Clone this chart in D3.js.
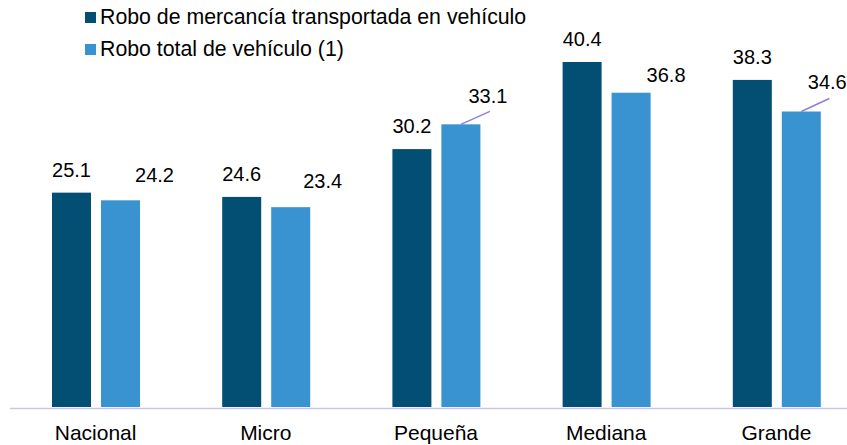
<!DOCTYPE html>
<html>
<head>
<meta charset="utf-8">
<script src="https://cdn.jsdelivr.net/npm/d3@7"></script>
<style>
  body { margin: 0; background: #fff; }
  text { font-family: "Liberation Sans", Arial, sans-serif; fill: #000; }
</style>
</head>
<body>
<div id="chart"></div>
<script>
  // data
  var categories = ["Nacional", "Micro", "Pequeña", "Mediana", "Grande"];
  var seriesNames = ["Robo de mercancía transportada en vehículo", "Robo total de vehículo (1)"];
  var mercancia = [25.1, 24.6, 30.2, 40.4, 38.3];
  var totalVehiculo = [24.2, 23.4, 33.1, 36.8, 34.6];

  var colors = ["#034f73", "#3893d0"];

  // hand placed labels for the light series (dx from bar centre, gap above bar, leader line)
  var lightLabelNudge = [
    {dx: 34, gap: 18, leader: false},
    {dx: 32, gap: 19, leader: false},
    {dx: 27, gap: 21, leader: true},
    {dx: 35, gap: 11, leader: false},
    {dx: 26, gap: 23, leader: true}
  ];

  var width = 847, height = 445;
  var baseY = 407;

  var svg = d3.select("#chart").append("svg")
      .attr("width", width)
      .attr("height", height);

  var x = d3.scaleBand()
      .domain(categories)
      .range([10.5, 861.5])
      .padding(0);

  var xSub = d3.scaleBand()
      .domain([0, 1])
      .range([41.5, 129.5])
      .paddingInner(0.204);

  var y = d3.scaleLinear()
      .domain([0, 45])
      .range([baseY, baseY - 45 * 8.54]);

  var rows = categories.map(function(c, i) {
    return {cat: c, i: i, values: [mercancia[i], totalVehiculo[i]]};
  });

  var groups = svg.selectAll("g.group")
    .data(rows)
    .enter().append("g")
      .attr("class", "group")
      .attr("transform", function(d) { return "translate(" + x(d.cat) + ",0)"; });

  groups.selectAll("rect")
    .data(function(d) { return d.values.map(function(v, k) { return {k: k, v: v}; }); })
    .enter().append("rect")
      .attr("x", function(d) { return xSub(d.k); })
      .attr("y", function(d) { return y(d.v); })
      .attr("width", xSub.bandwidth())
      .attr("height", function(d) { return baseY - y(d.v); })
      .style("fill", function(d) { return colors[d.k]; });

  // dark series labels
  groups.append("text")
      .attr("x", xSub(0) + xSub.bandwidth() / 2)
      .attr("y", function(d) { return y(d.values[0]) - 16; })
      .attr("text-anchor", "middle")
      .style("font-size", "20px")
      .text(function(d) { return d.values[0].toFixed(1); });

  // light series labels
  groups.each(function(d) {
    var g = d3.select(this);
    var n = lightLabelNudge[d.i];
    var cx = xSub(1) + xSub.bandwidth() / 2;
    var top = y(d.values[1]);
    if (n.leader) {
      g.append("line")
        .attr("x1", cx).attr("y1", top)
        .attr("x2", cx + n.dx + 2).attr("y2", top - 13)
        .style("stroke", "#8c7fe0")
        .style("stroke-width", 1.5);
    }
    g.append("text")
      .attr("x", cx + n.dx)
      .attr("y", top - n.gap)
      .attr("text-anchor", "middle")
      .style("font-size", "20px")
      .text(d.values[1].toFixed(1));
  });

  // category axis
  svg.append("line")
      .attr("x1", 10).attr("x2", width)
      .attr("y1", 408.5).attr("y2", 408.5)
      .style("stroke", "#cac5ec")
      .style("stroke-width", 1.5);

  svg.selectAll("text.cat")
    .data(categories)
    .enter().append("text")
      .attr("class", "cat")
      .attr("x", function(d) { return x(d) + x.bandwidth() / 2; })
      .attr("y", 440)
      .attr("text-anchor", "middle")
      .style("font-size", "21px")
      .text(function(d) { return d; });

  // legend
  var legend = svg.selectAll("g.legend")
    .data(seriesNames)
    .enter().append("g")
      .attr("class", "legend")
      .attr("transform", function(d, i) { return "translate(85," + (12 + i * 32) + ")"; });

  legend.append("rect")
      .attr("width", 11).attr("height", 11)
      .style("fill", function(d, i) { return colors[i]; });

  legend.append("text")
      .attr("x", 15).attr("y", 12)
      .style("font-size", "21.3px")
      .text(function(d) { return d; });
</script>
</body>
</html>
